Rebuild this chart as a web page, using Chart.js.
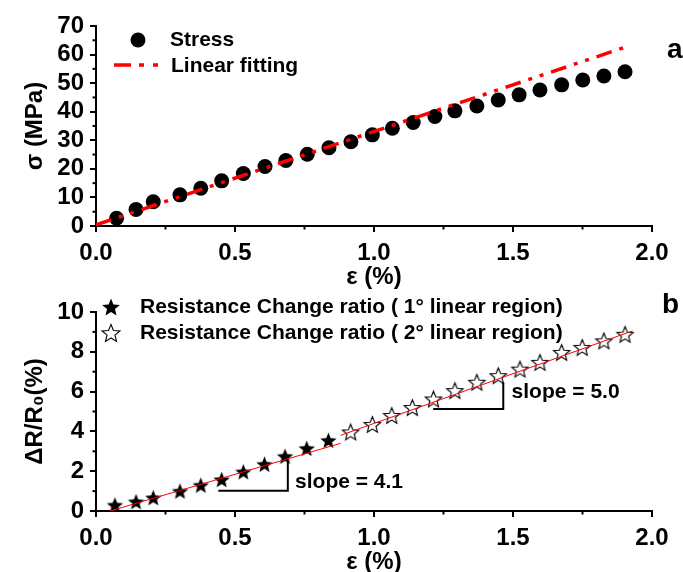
<!DOCTYPE html>
<html lang="en">
<head>
<meta charset="UTF-8">
<title>Stress and resistance change vs strain</title>
<script src="https://cdn.jsdelivr.net/npm/chart.js@4.4.0/dist/chart.umd.min.js"></script>
<style>
  body { margin: 0; background: #fff; }
  #wrap { position: relative; width: 683px; height: 572px; }
  canvas { position: absolute; left: 0; }
</style>
</head>
<body>
<div id="wrap">
  <canvas id="chartA" width="683" height="295" style="top:0"></canvas>
  <canvas id="chartB" width="683" height="292" style="top:280px"></canvas>
</div>
<script>
// ---- panel a : stress vs strain ----
const strain = [0.074, 0.144, 0.206, 0.302, 0.377, 0.452, 0.530, 0.608, 0.683, 0.760, 0.838, 0.917, 0.994,
                1.066, 1.141, 1.219, 1.291, 1.370, 1.447, 1.522, 1.597, 1.675, 1.751, 1.827, 1.903];
const stress = [2.7, 5.8, 8.5, 10.9, 13.2, 15.8, 18.4, 20.8, 22.9, 25.1, 27.4, 29.5, 31.9,
                34.2, 36.2, 38.3, 40.3, 42.0, 44.1, 45.9, 47.6, 49.4, 51.1, 52.5, 54.0];
const fitStrain = [0, 1.91];
const fitStress = [0.4, 62.8];

// ---- panel b : resistance change ratio ----
const strain1 = [0.068, 0.144, 0.206, 0.302, 0.377, 0.452, 0.530, 0.606, 0.680, 0.758, 0.836];
const ratio1  = [0.30, 0.47, 0.67, 1.00, 1.30, 1.58, 1.97, 2.35, 2.75, 3.15, 3.55];
const strain2 = [0.916, 0.994, 1.064, 1.138, 1.214, 1.291, 1.370, 1.447, 1.525, 1.597, 1.675, 1.749, 1.827, 1.903];
const ratio2  = [3.97, 4.35, 4.80, 5.20, 5.63, 6.05, 6.47, 6.80, 7.13, 7.47, 7.97, 8.22, 8.55, 8.88];
const fit1X = [0.05, 0.88], fit1Y = [0.0, 3.4];
const fit2X = [0.88, 1.93], fit2Y = [3.8, 9.05];
// slope triangles and their labels
const tri1X = [0.44, 0.69, 0.69], tri1Y = [1.02, 1.02, 2.47];
const tri2X = [1.213, 1.465, 1.465], tri2Y = [5.13, 5.13, 6.47];
const slopeLabels = ['slope = 4.1', 'slope = 5.0'];
const slopeLabelX = [0.716, 1.495], slopeLabelY = [1.45, 5.97];

// ticks
const strainTicks = [0, 0.5, 1.0, 1.5, 2.0];
const stressTicks = [0, 10, 20, 30, 40, 50, 60, 70];
const ratioTicks = [0, 2, 4, 6, 8, 10];

const FAMILY = '"Liberation Sans", Arial, sans-serif';
const bold = s => 'bold ' + s + 'px ' + FAMILY;
Chart.defaults.font.family = FAMILY;
Chart.defaults.color = '#000';

const pts = (xs, ys) => xs.map((v, i) => ({ x: v, y: ys[i] }));

function makeStar(r, filled) {
  const c = document.createElement('canvas');
  const s = Math.ceil(2 * r + 3);
  c.width = s; c.height = s;
  const g = c.getContext('2d');
  g.beginPath();
  for (let i = 0; i < 10; i++) {
    const ang = -Math.PI / 2 + i * Math.PI / 5;
    const rr = i % 2 === 0 ? r : r * 0.44;
    const px = s / 2 + rr * Math.cos(ang), py = s / 2 + 0.8 + rr * Math.sin(ang);
    i === 0 ? g.moveTo(px, py) : g.lineTo(px, py);
  }
  g.closePath();
  if (filled) { g.fillStyle = '#000'; g.fill(); }
  else { g.fillStyle = '#fff'; g.fill(); g.strokeStyle = '#000'; g.lineWidth = 1.1; g.stroke(); }
  return c;
}
const starFull = makeStar(8.6, true), starOpen = makeStar(8.6, false);
const starFullL = makeStar(9.4, true), starOpenL = makeStar(9.4, false);

// minor ticks halfway between major ones
const minorTicks = {
  id: 'minorTicks',
  afterDraw(chart) {
    const ctx = chart.ctx, { x, y } = chart.scales;
    ctx.save();
    ctx.strokeStyle = '#000';
    ctx.lineWidth = 2;
    const xv = x.ticks.map(t => t.value), yv = y.ticks.map(t => t.value);
    for (let i = 0; i < xv.length - 1; i++) {
      const px = x.getPixelForValue((xv[i] + xv[i + 1]) / 2);
      ctx.beginPath(); ctx.moveTo(px, x.top); ctx.lineTo(px, x.top + 3.5); ctx.stroke();
    }
    for (let i = 0; i < yv.length - 1; i++) {
      const py = y.getPixelForValue((yv[i] + yv[i + 1]) / 2);
      ctx.beginPath(); ctx.moveTo(y.right, py); ctx.lineTo(y.right - 3.5, py); ctx.stroke();
    }
    ctx.restore();
  }
};

function axes(xTicks, yTicks, yMax, yTitle, xHeight, xTitlePad) {
  return {
    x: {
      type: 'linear', min: 0, max: 2,
      afterBuildTicks: s => { s.ticks = xTicks.map(v => ({ value: v })); },
      afterFit: s => { s.height = xHeight; },
      ticks: { font: { size: 24, weight: 'bold' }, padding: 7, autoSkip: false, maxRotation: 0,
               callback: v => v.toFixed(1) },
      grid: { drawOnChartArea: false, color: '#000', lineWidth: 2, tickLength: 6 },
      border: { color: '#000', width: 2 },
      title: { display: true, text: 'ε (%)', font: { size: 24, weight: 'bold' }, padding: { top: 0, bottom: xTitlePad } }
    },
    y: {
      type: 'linear', min: 0, max: yMax,
      afterBuildTicks: s => { s.ticks = yTicks.map(v => ({ value: v })); },
      afterFit: s => { s.width = 96; },
      ticks: { font: { size: 24, weight: 'bold' }, padding: 6, autoSkip: false },
      grid: { drawOnChartArea: false, color: '#000', lineWidth: 2, tickLength: 6 },
      border: { color: '#000', width: 2 },
      title: { display: true, text: yTitle, font: { size: 24, weight: 'bold' }, padding: { top: 21, bottom: 0 } }
    }
  };
}

// ---- chart a ----
const extrasA = {
  id: 'extrasA',
  afterDraw(chart) {
    const ctx = chart.ctx, a = chart.chartArea;
    ctx.save();
    ctx.fillStyle = '#000';
    ctx.beginPath(); ctx.arc(a.left + 42, a.top + 14, 7.5, 0, 2 * Math.PI); ctx.fill();
    ctx.strokeStyle = '#ff0000'; ctx.lineWidth = 3.5;
    ctx.setLineDash([17, 8, 5, 9, 5, 9]);
    ctx.beginPath(); ctx.moveTo(a.left + 18, a.top + 39); ctx.lineTo(a.left + 66, a.top + 39); ctx.stroke();
    ctx.setLineDash([]);
    ctx.font = bold(21);
    ctx.textBaseline = 'middle';
    ctx.fillText('Stress', a.left + 74, a.top + 14);
    ctx.fillText('Linear fitting', a.left + 75, a.top + 40);
    ctx.font = bold(28);
    ctx.textBaseline = 'alphabetic';
    ctx.fillText('a', a.right + 15, a.top + 32);
    ctx.restore();
  }
};

new Chart('chartA', {
  type: 'scatter',
  data: {
    datasets: [
      { label: 'Linear fitting', data: pts(fitStrain, fitStress), showLine: true, borderColor: '#ff0000',
        borderWidth: 3.5, borderDash: [16, 8, 4, 8, 4, 8], pointRadius: 0, order: 0 },
      { label: 'Stress', data: pts(strain, stress), backgroundColor: '#000', borderWidth: 0,
        pointRadius: 7.5, order: 1 }
    ]
  },
  options: {
    responsive: false, animation: false, devicePixelRatio: 1, events: [],
    layout: { padding: { top: 26, right: 31, left: 0, bottom: 0 } },
    plugins: { legend: { display: false }, tooltip: { enabled: false } },
    scales: axes(strainTicks, stressTicks, 70, 'σ (MPa)', 69, 3)
  },
  plugins: [minorTicks, extrasA]
});

// ---- chart b ----
const extrasB = {
  id: 'extrasB',
  afterDraw(chart) {
    const ctx = chart.ctx, a = chart.chartArea, { x, y } = chart.scales;
    ctx.save();
    ctx.drawImage(starFullL, a.left + 15 - starFullL.width / 2, a.top - 5 - starFullL.height / 2);
    ctx.drawImage(starOpenL, a.left + 15 - starOpenL.width / 2, a.top + 21 - starOpenL.height / 2);
    ctx.fillStyle = '#000';
    ctx.font = bold(21);
    ctx.textBaseline = 'middle';
    ctx.fillText('Resistance Change ratio ( 1° linear region)', a.left + 44, a.top - 5);
    ctx.fillText('Resistance Change ratio ( 2° linear region)', a.left + 44, a.top + 21);
    slopeLabels.forEach((t, i) => {
      ctx.fillText(t, x.getPixelForValue(slopeLabelX[i]), y.getPixelForValue(slopeLabelY[i]));
    });
    ctx.font = bold(28);
    ctx.textBaseline = 'alphabetic';
    ctx.fillText('b', a.right + 10, a.top + 1);
    ctx.restore();
  }
};

new Chart('chartB', {
  type: 'scatter',
  data: {
    datasets: [
      { data: pts(fit1X, fit1Y), showLine: true, borderColor: '#ff0000', borderWidth: 1, pointRadius: 0, order: 0 },
      { data: pts(fit2X, fit2Y), showLine: true, borderColor: '#ff0000', borderWidth: 1, pointRadius: 0, order: 0 },
      { data: pts(tri1X, tri1Y), showLine: true, borderColor: '#000', borderWidth: 2, pointRadius: 0, order: 1 },
      { data: pts(tri2X, tri2Y), showLine: true, borderColor: '#000', borderWidth: 2, pointRadius: 0, order: 1 },
      { label: 'Resistance Change ratio ( 1° linear region)', data: pts(strain1, ratio1),
        pointStyle: starFull, pointRadius: 9, order: 2 },
      { label: 'Resistance Change ratio ( 2° linear region)', data: pts(strain2, ratio2),
        pointStyle: starOpen, pointRadius: 9, order: 2 }
    ]
  },
  options: {
    responsive: false, animation: false, devicePixelRatio: 1, events: [],
    layout: { padding: { top: 32, right: 31, left: 0, bottom: 0 } },
    plugins: { legend: { display: false }, tooltip: { enabled: false } },
    scales: axes(strainTicks, ratioTicks, 10, 'ΔR/R₀(%)', 61, -5)
  },
  plugins: [minorTicks, extrasB]
});
</script>
</body>
</html>
